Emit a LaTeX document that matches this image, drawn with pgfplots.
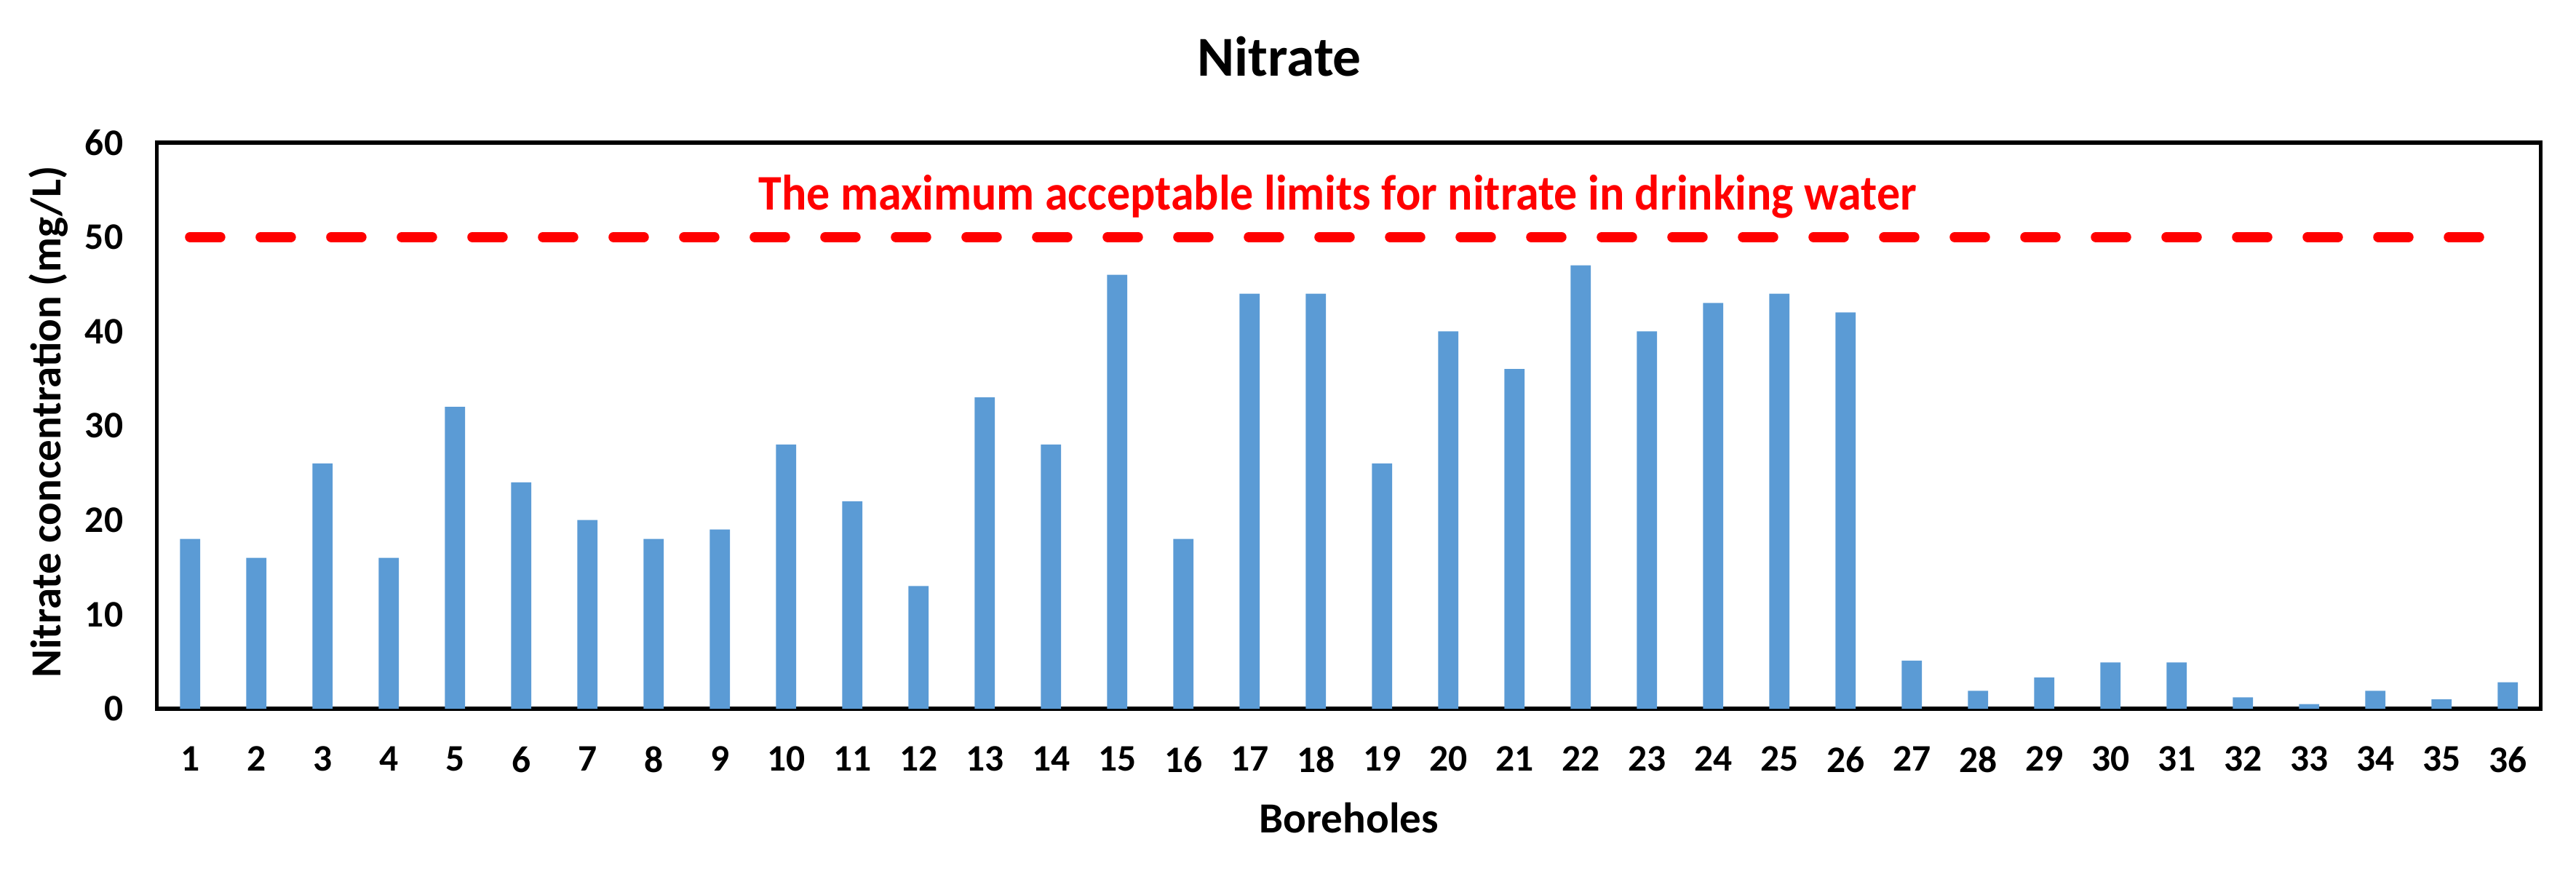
\documentclass[border=0pt]{standalone}
\usepackage{fontspec}
\setmainfont{Carlito}
\usepackage{pgfplots}
\pgfplotsset{compat=1.18}
\definecolor{barblue}{HTML}{5B9BD5}
\begin{document}
\begin{tikzpicture}
\useasboundingbox (-43.14pt,-44.4pt) rectangle (664.86pt,194.8pt);
\begin{axis}[
  at={(0pt,0pt)}, anchor=south west,
  width=655.2pt, height=155.6pt, scale only axis,
  xmin=0.5, xmax=36.5, ymin=0, ymax=60,
  xtick={1,...,36}, ytick={0,10,...,60},
  major tick length=0pt,
  axis line style={line width=1.05pt, black},
  /pgf/number format/assume math mode=true,
  tick label style={font=\fontsize{10.3}{12}\selectfont\bfseries, inner sep=0pt},
  xticklabel style={yshift=-10.2pt},
  yticklabel style={xshift=-9.1pt},
]
\addplot[ybar, bar width=5.54pt, fill=barblue, draw=none] coordinates {
(1,18) (2,16) (3,26) (4,16) (5,32) (6,24) (7,20) (8,18) (9,19) (10,28)
(11,22) (12,13) (13,33) (14,28) (15,46) (16,18) (17,44) (18,44) (19,26) (20,40)
(21,36) (22,47) (23,40) (24,43) (25,44) (26,42) (27,5.1) (28,1.9) (29,3.3) (30,4.9)
(31,4.9) (32,1.2) (33,0.5) (34,1.9) (35,1.0) (36,2.8)
};
\addplot[red, line width=2.8pt, line cap=round, dash pattern=on 8.3pt off 11.1pt] coordinates {(1.0,50) (35.57,50)};
\node[text=red, font=\fontsize{13.7}{16}\selectfont\bfseries, anchor=base, inner sep=0pt, xscale=0.934] at (axis cs:18.33,52.87) {The maximum acceptable limits for nitrate in drinking water};
\end{axis}
\node[font=\fontsize{15.5}{18}\selectfont\bfseries, anchor=base, inner sep=0pt] at (308.5pt,174pt) {Nitrate};
\node[font=\fontsize{11.8}{14}\selectfont\bfseries, anchor=base, inner sep=0pt] at (327.6pt,-34pt) {Boreholes};
\node[font=\fontsize{11.8}{14}\selectfont\bfseries, rotate=90, anchor=base, inner sep=0pt] at (-26.5pt,78.8pt) {Nitrate concentration (mg/L)};
\end{tikzpicture}
\end{document}
